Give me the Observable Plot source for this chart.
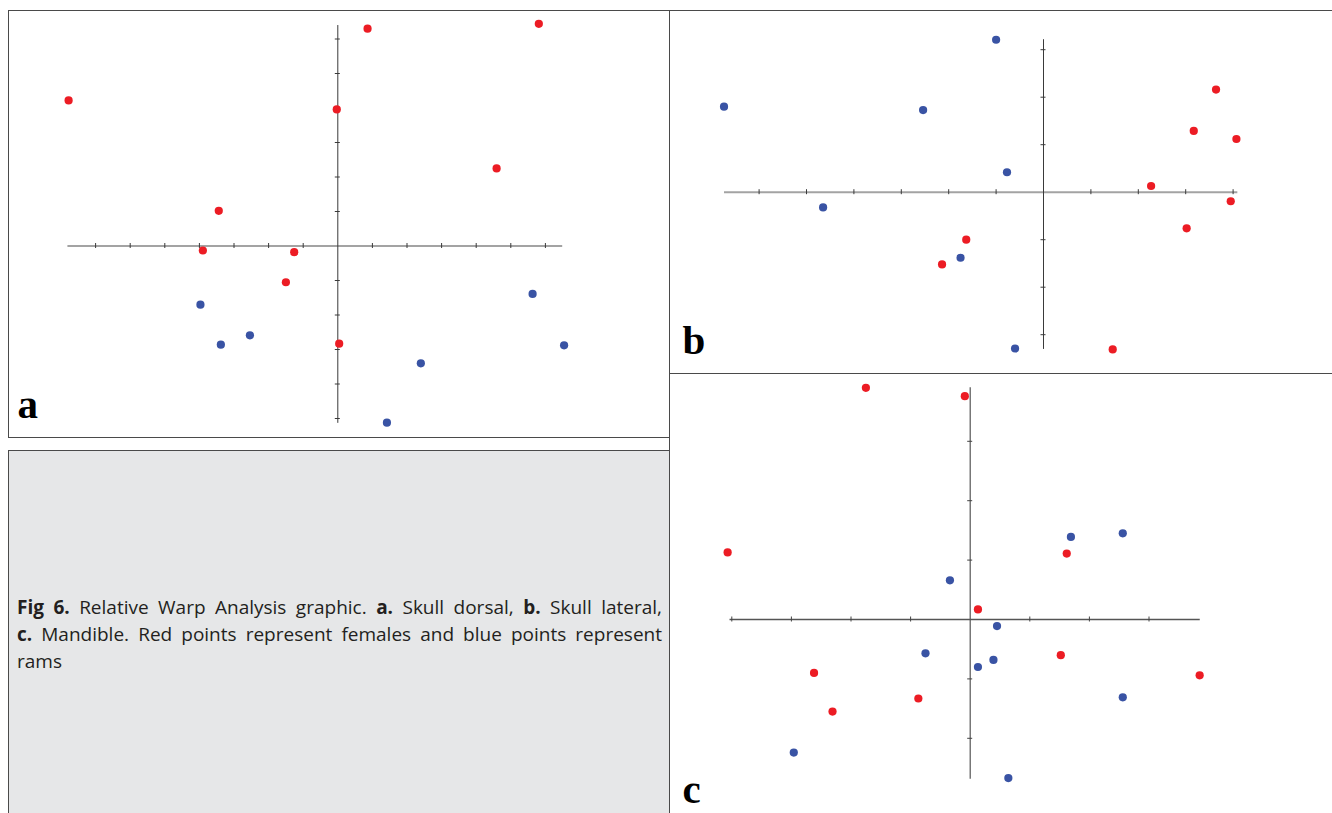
<!DOCTYPE html>
<html>
<head>
<meta charset="utf-8">
<script src="https://cdn.jsdelivr.net/npm/d3@7"></script>
<script src="https://cdn.jsdelivr.net/npm/@observablehq/plot@0.6"></script>
<style>
  html, body { margin: 0; padding: 0; background: #ffffff; }
  #page { position: relative; width: 1332px; height: 813px; overflow: hidden; background: #ffffff; }
  .box { position: absolute; box-sizing: border-box; border: 1px solid #4a4a4a; }
  .plot { position: absolute; }
  .plot svg { display: block; max-width: none; }
  #caption { position: absolute; left: 17px; top: 594px; width: 645px; font-family: "Open Sans", "Noto Sans", sans-serif; font-size: 19px; line-height: 27px; color: #231f20; }
  #caption .j { text-align: justify; text-align-last: justify; white-space: nowrap; }
  #caption b { font-weight: 700; }
</style>
</head>
<body>
<div id="page">
  <div class="box" style="left:8px; top:450px; width:662px; height:400px; background:#e6e7e8;"></div>
  <div class="box" style="left:8px; top:10px; width:662px; height:428px;"></div>
  <div class="box" style="left:669px; top:10px; width:700px; height:364px;"></div>
  <div class="box" style="left:669px; top:373px; width:700px; height:500px;"></div>
  <div id="caption">
    <div class="j"><b>Fig 6.</b> Relative Warp Analysis graphic. <b>a.</b> Skull dorsal, <b>b.</b> Skull lateral,</div>
    <div class="j"><b>c.</b> Mandible. Red points represent females and blue points represent</div>
    <div>rams</div>
  </div>
</div>
<script>
// ---------- Panel a: Skull dorsal ----------
const aFemales = [
  [0.86, 6.30], [5.81, 6.44], [-7.78, 4.22], [-0.03, 3.96], [4.59, 2.25],
  [-3.44, 1.02], [-3.90, -0.13], [-1.26, -0.18], [-1.50, -1.05], [0.04, -2.83]
];
const aRams = [
  [-3.97, -1.70], [-3.38, -2.86], [-2.54, -2.59], [5.63, -1.39],
  [6.54, -2.88], [2.40, -3.40], [1.42, -5.12]
];
const aXTicks = [-7, -6, -5, -4, -3, -2, -1, 1, 2, 3, 4, 5, 6];
const aYTicks = [-5, -4, -3, -2, -1, 1, 2, 3, 4, 5, 6];
const aXAxisRange = [-7.8, 6.5];
const aYAxisRange = [-5.14, 6.39];

// ---------- Panel b: Skull lateral ----------
const bFemales = [
  [3.64, 2.16], [3.17, 1.29], [4.07, 1.12], [2.27, 0.13], [3.95, -0.19],
  [3.02, -0.76], [-1.63, -1.00], [-2.14, -1.52], [1.46, -3.31]
];
const bRams = [
  [-1.00, 3.21], [-6.74, 1.80], [-2.54, 1.73], [-0.77, 0.42],
  [-4.65, -0.32], [-1.75, -1.38], [-0.60, -3.29]
];
const bXTicks = [-6, -5, -4, -3, -2, -1, 1, 2, 3, 4];
const bYTicks = [-3, -2, -1, 1, 2, 3];
const bXAxisRange = [-6.73, 4.1];
const bYAxisRange = [-3.31, 3.21];

// ---------- Panel c: Mandible ----------
const cFemales = [
  [-1.75, 3.90], [-0.09, 3.76], [-4.07, 1.13], [1.62, 1.11], [0.13, 0.17],
  [1.52, -0.60], [3.85, -0.94], [-2.62, -0.90], [-0.87, -1.33], [-2.31, -1.55]
];
const cRams = [
  [1.69, 1.39], [2.56, 1.45], [-0.34, 0.66], [0.45, -0.11], [-0.75, -0.57],
  [0.39, -0.68], [0.13, -0.80], [2.56, -1.31], [-2.96, -2.24], [0.64, -2.67]
];
const cXTicks = [-4, -3, -2, -1, 1, 2, 3];
const cYTicks = [-2, -1, 1, 2, 3];
const cXAxisRange = [-4.03, 3.86];
const cYAxisRange = [-2.69, 3.9];

const groups = ["females", "rams"];
const groupColors = ["#ec1c24", "#3953a4"];

function table(females, rams) {
  return [
    ...females.map(([x, y]) => ({x, y, group: "females"})),
    ...rams.map(([x, y]) => ({x, y, group: "rams"}))
  ];
}

function panel(cfg) {
  const {left, top, width, height, ox, oy, ux, uy} = cfg.geom;
  const tick = 2.5;
  const data = table(cfg.females, cfg.rams);
  const chart = Plot.plot({
    width, height,
    margin: 0,
    style: {background: "transparent", overflow: "visible"},
    x: {domain: [-ox / ux, (width - ox) / ux], axis: null},
    y: {domain: [-(height - oy) / uy, oy / uy], axis: null},
    color: {domain: groups, range: groupColors},
    marks: [
      Plot.ruleY([0], {x1: cfg.xRange[0], x2: cfg.xRange[1], stroke: cfg.hColor, strokeWidth: cfg.hWidth}),
      Plot.ruleX([0], {y1: cfg.yRange[0], y2: cfg.yRange[1], stroke: cfg.vColor, strokeWidth: cfg.vWidth}),
      Plot.ruleX(cfg.xTicks, {x: d => d, y1: -tick / uy, y2: tick / uy, stroke: cfg.tColor, strokeWidth: 1}),
      Plot.ruleY(cfg.yTicks, {y: d => d, x1: -tick / ux, x2: tick / ux, stroke: cfg.tColor, strokeWidth: 1}),
      Plot.dot(data, {x: "x", y: "y", fill: "group", r: 4.1, stroke: null}),
      Plot.text([cfg.label], {
        text: d => d, frameAnchor: "bottom-left", textAnchor: "start", lineAnchor: "bottom",
        dx: cfg.labelDx, dy: cfg.labelDy, fontSize: 41, fontWeight: "bold",
        fontFamily: "'Liberation Serif', 'Times New Roman', serif", fill: "#000"
      })
    ]
  });
  const holder = document.createElement("div");
  holder.className = "plot";
  holder.style.left = left + "px";
  holder.style.top = top + "px";
  holder.appendChild(chart);
  document.getElementById("page").appendChild(holder);
}

panel({
  females: aFemales, rams: aRams, xTicks: aXTicks, yTicks: aYTicks,
  xRange: aXAxisRange, yRange: aYAxisRange, label: "a",
  geom: {left: 8, top: 10, width: 662, height: 428, ox: 329.3, oy: 235.5, ux: 34.6, uy: 34.5},
  hColor: "#a3a3a3", hWidth: 2, vColor: "#3a3a3a", vWidth: 1, tColor: "#3a3a3a",
  labelDx: 9, labelDy: -21
});
panel({
  females: bFemales, rams: bRams, xTicks: bXTicks, yTicks: bYTicks,
  xRange: bXAxisRange, yRange: bYAxisRange, label: "b",
  geom: {left: 669, top: 10, width: 663, height: 364, ox: 374.0, oy: 181.7, ux: 47.4, uy: 47.5},
  hColor: "#a3a3a3", hWidth: 2, vColor: "#3a3a3a", vWidth: 1, tColor: "#3a3a3a",
  labelDx: 13, labelDy: -21
});
panel({
  females: cFemales, rams: cRams, xTicks: cXTicks, yTicks: cYTicks,
  xRange: cXAxisRange, yRange: cYAxisRange, label: "c",
  geom: {left: 669, top: 373, width: 663, height: 440, ox: 300.7, oy: 246, ux: 59.6, uy: 59.4},
  hColor: "#555555", hWidth: 1.4, vColor: "#555555", vWidth: 1.2, tColor: "#444444",
  labelDx: 13, labelDy: -11
});
</script>
</body>
</html>
